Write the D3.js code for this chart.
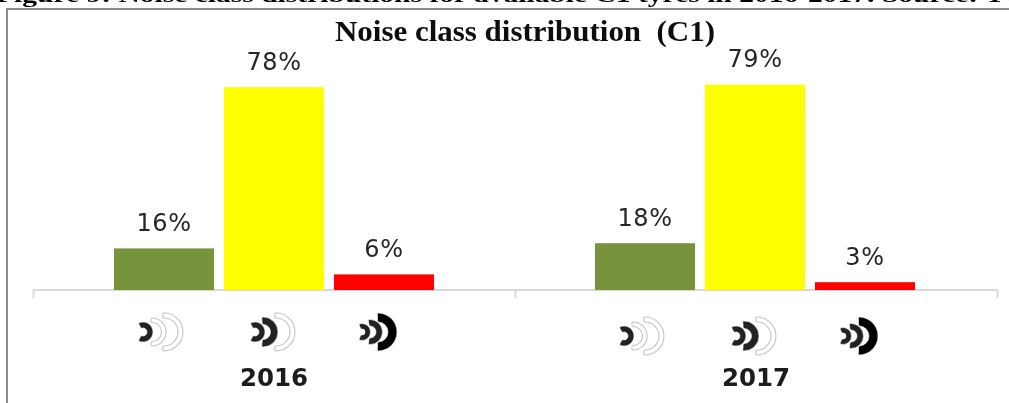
<!DOCTYPE html>
<html><head><meta charset="utf-8">
<script src="https://cdn.jsdelivr.net/npm/d3@7/dist/d3.min.js"></script>
<style>html,body{margin:0;padding:0;background:#fff;overflow:hidden}svg{display:block}</style>
</head><body><svg id="c" width="1009" height="403"></svg>
<script>
const years = ["2016", "2017"];
const classes = ["low", "medium", "high"];
const values2016 = [16, 78, 6];
const values2017 = [18, 79, 3];
const barColors = ["#77933C", "#FFFF00", "#FF0000"];
const caption = "Figure 9: Noise class distributions for available C1 tyres in 2016-2017. Source: TC";
const title = "Noise class distribution  (C1)";

const series = [values2016, values2017];
const W = 1009, H = 403, baseY = 290;
const svg = d3.select("#c");
const defs = svg.append("defs");
defs.append("filter").attr("id", "soft").append("feGaussianBlur").attr("stdDeviation", 0.5);

// frame
svg.append("path").attr("d", `M7,403V9H${W}`).attr("fill", "none").attr("stroke", "#8c8c8c").attr("stroke-width", 2);

// caption, cut off by the top of the picture as in the reference
svg.append("text").text(caption).attr("x", -4).attr("y", 2)
  .attr("font-family", "Liberation Serif").attr("font-weight", "bold").attr("font-size", 21)
  .attr("textLength", 1030).attr("lengthAdjust", "spacingAndGlyphs").attr("fill", "#000").attr("filter", "url(#soft)");

const outer = d3.scaleBand().domain(years).range([33, 997]);
const inner = d3.scaleBand().domain(classes).range([0, outer.bandwidth()]).paddingInner(0.09).paddingOuter(0.736);
const y = d3.scaleLinear().domain([0, 100]).range([baseY, baseY - 260]);

// axis
const xAxis = d3.axisBottom(d3.scaleLinear().domain([0, years.length]).range(outer.range()))
  .tickValues(d3.range(years.length + 1)).tickFormat("").tickSize(8).tickSizeOuter(0);
const ax = svg.append("g").attr("transform", `translate(0,${baseY})`).call(xAxis);
ax.selectAll("path,line").attr("stroke", "#d9d9d9").attr("stroke-width", 2);
ax.select(".domain").attr("d", `M${outer.range()[0]},0H${outer.range()[1]}`);

// icon bands: [centre x, inner radius, outer radius, half angle in degrees, kind]; kind 0 = faint outline, 1 = dark, 2 = black
const iconShapes = {
  low:    { dx: -26, arcs: [[26, 14, 19, 94, 0], [14, 9.5, 14, 95, 0], [5, 4, 10, 118, 1]] },
  medium: { dx: -24, arcs: [[26, 14, 19, 94, 0], [13, 7.5, 15, 95, 1], [5, 4, 10, 118, 1]] },
  high:   { dx: -26, arcs: [[20, 10, 19, 92, 2], [12, 6, 12.5, 98, 1], [4, 3, 8.5, 112, 1]] }
};
const iconY = { "2016": 332, "2017": 336 };
const band = d3.arc().cornerRadius(1.2);
function crescent(a) {
  const t = a[3] * Math.PI / 180;
  return band({ innerRadius: a[1], outerRadius: a[2], startAngle: Math.PI / 2 - t, endAngle: Math.PI / 2 + t });
}

years.forEach((yr, i) => {
  const g = svg.append("g").attr("transform", `translate(${outer(yr) - i},0)`);
  const rows = classes.map((c, j) => ({ c, v: series[i][j], col: barColors[j] }));
  g.selectAll("rect").data(rows).join("rect")
    .attr("x", d => inner(d.c)).attr("width", inner.bandwidth())
    .attr("y", d => y(d.v)).attr("height", d => baseY - y(d.v))
    .attr("fill", d => d.col);
  g.selectAll("text.v").data(rows).join("text").attr("class", "v")
    .attr("x", d => inner(d.c) + inner.bandwidth() / 2).attr("y", d => y(d.v) - 17.5)
    .attr("text-anchor", "middle").attr("font-family", "DejaVu Sans").attr("font-size", 24)
    .attr("letter-spacing", 0.6).attr("fill", "#262626").attr("filter", "url(#soft)").text(d => d.v + "%");
  const icons = g.selectAll("g.icon").data(rows).join("g").attr("class", "icon")
    .attr("filter", "url(#soft)")
    .attr("transform", d => `translate(${inner(d.c) + inner.bandwidth() / 2 + iconShapes[d.c].dx},${iconY[yr]})`);
  icons.selectAll("path").data(d => iconShapes[d.c].arcs).join("path")
    .attr("transform", a => `translate(${a[0]},0)`)
    .attr("d", crescent)
    .attr("fill", a => a[4] === 2 ? "#000" : a[4] === 1 ? "#222" : "#fff")
    .attr("stroke", a => a[4] ? "#fff" : "#c4c4c4")
    .attr("stroke-width", a => a[4] ? 0.6 : 1.1);
  svg.append("text").text(yr).attr("x", outer(yr) + outer.bandwidth() / 2).attr("y", 386)
    .attr("text-anchor", "middle").attr("font-family", "DejaVu Sans").attr("font-weight", "bold")
    .attr("font-size", 24.5).attr("fill", "#1a1a1a").attr("filter", "url(#soft)");
});

svg.append("text").text(title).attr("x", 525).attr("y", 41).attr("text-anchor", "middle")
  .style("white-space", "pre")
  .attr("font-family", "Liberation Serif").attr("font-weight", "bold").attr("font-size", 29)
  .attr("textLength", 380).attr("lengthAdjust", "spacingAndGlyphs").attr("fill", "#111").attr("filter", "url(#soft)");
</script></body></html>
